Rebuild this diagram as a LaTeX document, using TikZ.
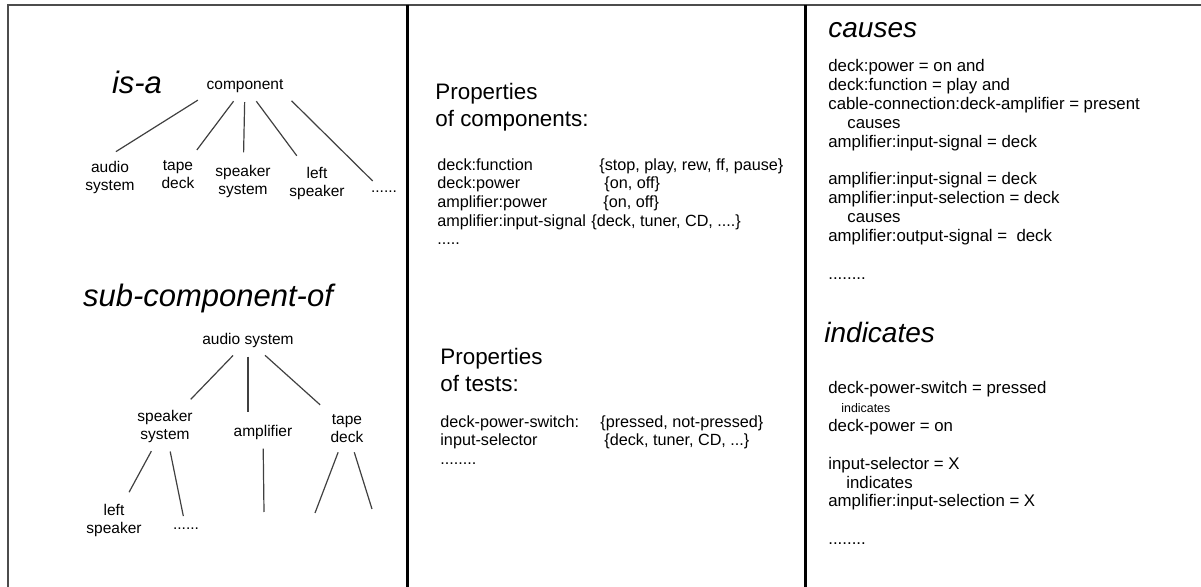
\documentclass[tikz,border=0pt]{standalone}
\usepackage{fontspec}
\setmainfont{Liberation Sans}

\begin{document}
\begin{tikzpicture}[x=0.5pt,y=-0.5pt,
      relname/.style={font=\fontsize{15.5}{18}\selectfont\itshape,inner sep=0pt},
      relhead/.style={font=\fontsize{14}{16}\selectfont\itshape,inner sep=0pt,anchor=west},
      leaf/.style={font=\fontsize{7.75}{9}\selectfont,align=center,inner sep=2.5pt},
      prophead/.style={font=\fontsize{11.2}{13.5}\selectfont,align=left,anchor=north west,inner sep=0pt},
      midtext/.style={font=\fontsize{8.1}{9.35}\selectfont,align=left,anchor=north west,inner sep=0pt},
      ruletext/.style={font=\fontsize{8.4}{9.45}\selectfont,align=left,anchor=north west,inner sep=0pt},
      branch/.style={draw=black!75,line width=0.6pt,shorten <=2pt,shorten >=3.5pt},
      stub/.style={draw=black!75,line width=0.6pt,shorten <=2pt}]

   \useasboundingbox (0,0) rectangle (1201,587);

   % Frame
      \draw[line width=1.1pt,black!70] (1201,5) -- (8,5) -- (8,587);
      \draw[line width=1.5pt] (407,5) -- (407,587);
      \draw[line width=1.5pt] (805,5) -- (805,587);

   % Nodes: is-a
      \node[relname]           (isa)   at (137,82)   {is-a};
      \node[leaf]              (comp)  at (245,86)   {component};
      \node[leaf]              (audio) at (110,177)  {audio\\system};
      \node[leaf]              (tape)  at (178,175)  {tape\\deck};
      \node[leaf]              (spk)   at (243,181)  {speaker\\system};
      \node[leaf]              (lspk)  at (317,183)  {left\\speaker};
      \node[leaf,anchor=base]  (etc)   at (384,193)  {......};

   % Nodes: sub-component-of
      \node[relname]           (subof) at (208,298)  {sub-component-of};
      \node[leaf]              (asys)  at (248,340)  {audio system};
      \node[leaf]              (sps)   at (165,426)  {speaker\\system};
      \node[leaf]              (amp)   at (263,432)  {amplifier};
      \node[leaf]              (tdk)   at (347,429)  {tape\\deck};
      \node[leaf]              (lsp)   at (114,520)  {left\\speaker};
      \node[leaf,anchor=base]  (setc)  at (186,530)  {......};
      \coordinate (ampend) at (264,512);
      \coordinate (tdkl)   at (315,513);
      \coordinate (tdkr)   at (372,509);

   % Paths
      \path (comp.south west) edge [branch] (audio.north);
      \path (comp) edge [branch] (tape)
                   edge [branch] (spk)
                   edge [branch] (lspk);
      \path (comp.south east) edge [branch] (etc);
      \path (asys) edge [branch] (sps)
                   edge [branch] (tdk);
      \path (asys.south) edge [branch] (asys.south |- amp.north);
      \path (sps)  edge [branch] (lsp)
                   edge [branch] (setc);
      \path (amp)  edge [stub]   (ampend);
      \path (tdk)  edge [stub]   (tdkl)
                   edge [stub]   (tdkr);

   % Properties
      \node[prophead] (propc)    at (435,83)  {Properties\\of components:};
      \node[midtext]  (compkeys) at (437,158) {deck:function\\deck:power\\amplifier:power\\amplifier:input-signal\\.....};
      \node[midtext]  (compvals) at (591,158) {\hspace*{4pt}\{stop, play, rew, ff, pause\}\\\hspace*{6.5pt}\{on, off\}\\\hspace*{6pt}\{on, off\}\\\{deck, tuner, CD, ....\}};
      \node[prophead] (propt)    at (440,348) {Properties\\of tests:};
      \node[midtext]  (testkeys) at (440,415) {deck-power-switch:\\input-selector\\........};
      \node[midtext]  (testvals) at (600,415) {\{pressed, not-pressed\}\\\hspace*{2pt}\{deck, tuner, CD, ...\}};

   % Relations
      \node[relhead]  (causes)   at (828,30)  {causes};
      \node[ruletext] (causerul) at (828,59)  {deck:power = on and\\deck:function = play and\\cable-connection:deck-amplifier = present\\\hspace*{9.5pt}causes\\amplifier:input-signal = deck\\[9.45pt]amplifier:input-signal = deck\\amplifier:input-selection = deck\\\hspace*{9.5pt}causes\\amplifier:output-signal = \ deck\\[9.45pt]........};
      \node[relhead]  (indic)    at (824,333) {indicates};
      \node[ruletext] (indrul)   at (828,381) {deck-power-switch = pressed\\\hspace*{6.5pt}{\fontsize{6.2}{7}\selectfont indicates}\\deck-power = on\\[9.45pt]input-selector = X\\\hspace*{9pt}indicates\\amplifier:input-selection = X\\[9.45pt]........};
\end{tikzpicture}
\end{document}
